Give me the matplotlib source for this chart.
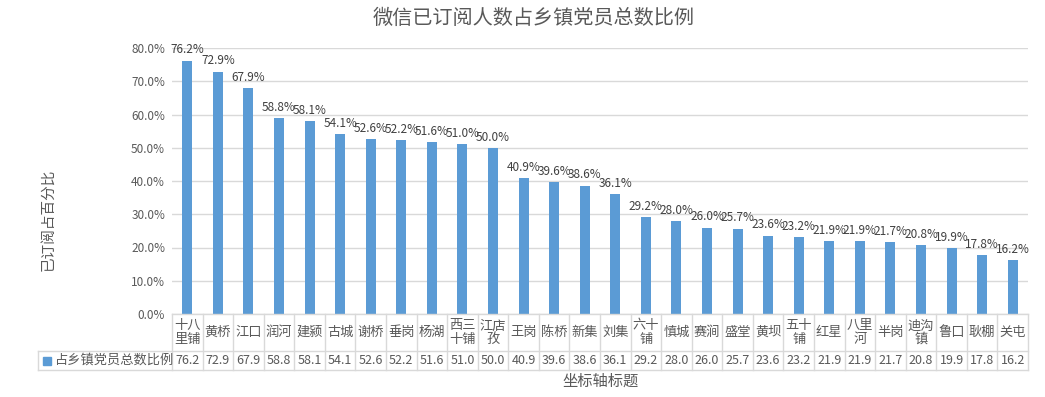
import matplotlib.pyplot as plt
from matplotlib.ticker import PercentFormatter

plt.rcParams['font.family'] = ['Noto Sans CJK SC', 'DejaVu Sans']

# data
towns = ['十八\n里铺', '黄桥', '江口', '润河', '建颍', '古城', '谢桥', '垂岗', '杨湖', '西三\n十铺',
         '江店\n孜', '王岗', '陈桥', '新集', '刘集', '六十\n铺', '慎城', '赛涧', '盛堂', '黄坝',
         '五十\n铺', '红星', '八里\n河', '半岗', '迪沟\n镇', '鲁口', '耿棚', '关屯']
ratio = [76.2, 72.9, 67.9, 58.8, 58.1, 54.1, 52.6, 52.2, 51.6, 51.0,
         50.0, 40.9, 39.6, 38.6, 36.1, 29.2, 28.0, 26.0, 25.7, 23.6,
         23.2, 21.9, 21.9, 21.7, 20.8, 19.9, 17.8, 16.2]
series_name = '占乡镇党员总数比例'
title = '微信已订阅人数占乡镇党员总数比例'
ylabel = '已订阅占百分比'
xlabel = '坐标轴标题'

W, H = 1045, 397
bar_color = '#5B9BD5'
text_color = '#595959'
grid_color = '#D9D9D9'

fig = plt.figure(figsize=(W / 100, H / 100), dpi=100)

left_px, right_px = 172, 1028
top_px, zero_px = 48, 314
ax = fig.add_axes([left_px / W, (H - zero_px) / H, (right_px - left_px) / W, (zero_px - top_px) / H])

n = len(towns)
xs = list(range(n))
ax.bar(xs, ratio, width=0.33, color=bar_color, zorder=3)
ax.set_xlim(-0.5, n - 0.5)
ax.set_ylim(0, 80)
ax.set_yticks(range(0, 81, 10))
ax.yaxis.set_major_formatter(PercentFormatter(decimals=1))
ax.tick_params(axis='y', length=0, labelsize=8.5, labelcolor=text_color, pad=5)
ax.tick_params(axis='x', length=0, labelbottom=False)
ax.grid(axis='y', color=grid_color, linewidth=1, zorder=0)
for s in ax.spines.values():
    s.set_visible(False)

for x, v in zip(xs, ratio):
    ax.annotate(f'{v:.1f}%', (x, v), xytext=(0, 3), textcoords='offset points',
                ha='center', va='bottom', fontsize=8.5, color='#404040')

# data table below the plot
tab_bottom_px = 370
row_split_px = 351
tab = fig.add_axes([left_px / W, (H - tab_bottom_px) / H, (right_px - left_px) / W,
                    (tab_bottom_px - zero_px) / H])
tab.set_xlim(-0.5, n - 0.5)
tab.set_ylim(tab_bottom_px - zero_px, 0)
tab.axis('off')
col_w = (right_px - left_px) / n
legend_left = -0.5 - (left_px - 38) / col_w
rs = row_split_px - zero_px
rb = tab_bottom_px - zero_px
lc = dict(color=grid_color, linewidth=1, clip_on=False)
tab.plot([-0.5, n - 0.5], [0, 0], **lc)
tab.plot([legend_left, n - 0.5], [rs, rs], **lc)
tab.plot([legend_left, n - 0.5], [rb, rb], **lc)
tab.plot([legend_left, legend_left], [rs, rb], **lc)
for i in range(n + 1):
    tab.plot([i - 0.5, i - 0.5], [0, rb], **lc)
for x, name, v in zip(xs, towns, ratio):
    tab.text(x, rs / 2, name, ha='center', va='center', fontsize=9.5, color=text_color,
             linespacing=1.0)
    tab.text(x, (rs + rb) / 2, f'{v:.1f}', ha='center', va='center', fontsize=9,
             color=text_color)
tab.plot([legend_left + 0.3], [(rs + rb) / 2], marker='s', markersize=6,
         color=bar_color, clip_on=False)
tab.text(legend_left + 0.55, (rs + rb) / 2, series_name, ha='left', va='center',
         fontsize=9.5, color=text_color)

fig.text(534 / W, 1 - 18 / H, title, ha='center', va='center', fontsize=14.5, color=text_color)
fig.text(48 / W, 1 - 220 / H, ylabel, ha='center', va='center', rotation=90,
         fontsize=10.5, color=text_color)
fig.text(601 / W, 1 - 381 / H, xlabel, ha='center', va='center', fontsize=11,
         color=text_color)

fig.savefig('out.png', dpi=100)
